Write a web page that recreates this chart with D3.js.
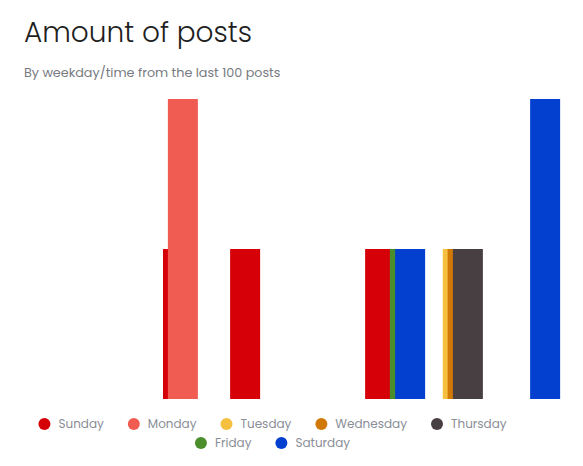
<!DOCTYPE html>
<html>
<head>
<meta charset="utf-8">
<script src="https://cdn.jsdelivr.net/npm/d3@7"></script>
<style>
  body { margin: 0; background: #fff; }
  svg text { font-family: Poppins, "DejaVu Sans", sans-serif; }
</style>
</head>
<body>
<div id="chart"></div>
<script>
// Series = weekdays, each with post times (HH:MM) and how many posts at that time
const weekdays = ['Sunday', 'Monday', 'Tuesday', 'Wednesday', 'Thursday', 'Friday', 'Saturday'];
const dayColors = ['#d60009', '#f05c51', '#f5c040', '#d17906', '#483f42', '#4b8f2d', '#0440d0'];

const sundayPosts    = [['06:48', 1], ['09:47', 1], ['15:47', 1]];
const mondayPosts    = [['07:01', 2]];
const tuesdayPosts   = [['19:14', 1]];
const wednesdayPosts = [['19:27', 1]];
const thursdayPosts  = [['19:41', 1]];
const fridayPosts    = [['16:53', 1]];
const saturdayPosts  = [['17:07', 1], ['23:07', 2]];

const seriesPosts = [sundayPosts, mondayPosts, tuesdayPosts, wednesdayPosts, thursdayPosts, fridayPosts, saturdayPosts];
const yTicks = [0, 1, 2];

const width = 583;
const height = 466;
const margin = { top: 99, right: 18, bottom: 67, left: 25 };
const barWidth = 30;

const toMinutes = s => {
    const [h, m] = s.split(':').map(Number);
    return h * 60 + m;
};

const svg = d3.select('#chart')
    .append('svg')
    .attr('width', width)
    .attr('height', height);

// Titulo y subtitulo
svg.append('text')
    .attr('x', 24)
    .attr('y', 42)
    .attr('font-size', 28)
    .attr('font-weight', 300)
    .attr('fill', '#1f1f1f')
    .text('Amount of posts');

svg.append('text')
    .attr('x', 24)
    .attr('y', 77)
    .attr('font-size', 12.75)
    .attr('fill', '#777a80')
    .text('By weekday/time from the last 100 posts');

// Escalas
const x = d3.scaleLinear()
    .domain([0, 24 * 60])
    .range([margin.left, width - margin.right]);

const y = d3.scaleLinear()
    .domain([0, d3.max(yTicks)])
    .range([height - margin.bottom, margin.top]);

// Barras, una serie encima de la otra en orden de dia
const bars = svg.append('g');
seriesPosts.forEach((posts, i) => {
    bars.selectAll(null)
        .data(posts)
        .enter().append('rect')
        .attr('x', d => x(toMinutes(d[0])) - barWidth / 2)
        .attr('y', d => y(d[1]))
        .attr('width', barWidth)
        .attr('height', d => y(0) - y(d[1]))
        .attr('fill', dayColors[i]);
});

// Leyenda centrada en dos filas
const legend = svg.append('g');
const maxRowWidth = 520;
const items = weekdays.map((day, i) => {
    const g = legend.append('g');
    g.append('circle').attr('cx', 6).attr('cy', 0).attr('r', 6).attr('fill', dayColors[i]);
    const t = g.append('text')
        .attr('x', 20)
        .attr('y', 4.3)
        .attr('font-size', 12)
        .attr('fill', '#8a8e96')
        .text(day);
    return { g, w: 20 + t.node().getComputedTextLength() + 24 };
});

const rows = [[]];
let rowW = 0;
items.forEach(it => {
    if (rowW + it.w > maxRowWidth && rows[rows.length - 1].length) {
        rows.push([]);
        rowW = 0;
    }
    rows[rows.length - 1].push(it);
    rowW += it.w;
});

const legendCenter = 284.5;
rows.forEach((row, r) => {
    const total = d3.sum(row, d => d.w);
    let cx = legendCenter - total / 2;
    row.forEach(it => {
        it.g.attr('transform', `translate(${cx},${424 + r * 19})`);
        cx += it.w;
    });
});
</script>
</body>
</html>
